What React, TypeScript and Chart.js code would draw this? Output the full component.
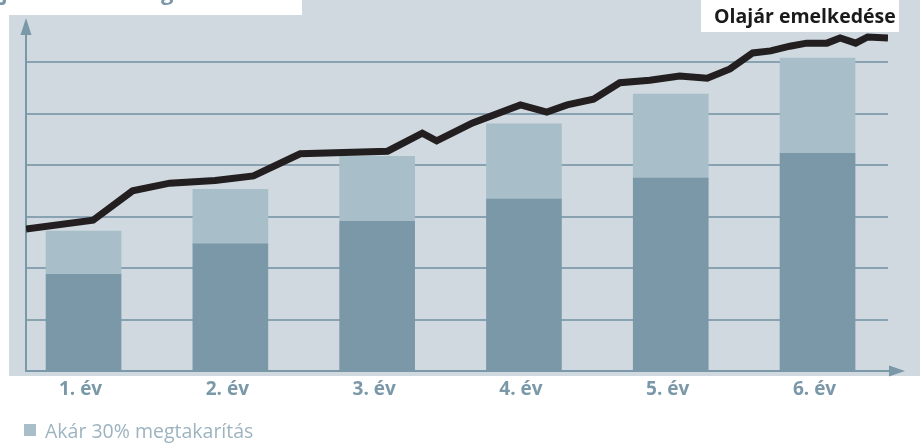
import React, { useEffect, useRef } from "react";
import { Chart, registerables } from "chart.js";

Chart.register(...registerables);

// ---- data ----
const years = ["1. év", "2. év", "3. év", "4. év", "5. év", "6. év"];
const costAfterSaving = [1.88, 2.47, 2.91, 3.34, 3.75, 4.23];
const savingPart = [0.84, 1.06, 1.26, 1.46, 1.63, 1.85];
const oilMonths = [0, 5.6, 8.9, 12, 15.8, 19, 22.9, 30.2, 33.1, 34.3, 37.3, 41.3, 43.5, 45.2, 47.4, 49.6, 52.1, 54.6, 56.9, 58.8, 60.7, 62.2, 63.8, 65.2, 66.9, 68, 69.3, 70.3, 72];
const oilPrice = [2.76, 2.93, 3.5, 3.65, 3.7, 3.79, 4.22, 4.27, 4.62, 4.47, 4.82, 5.17, 5.03, 5.17, 5.28, 5.6, 5.65, 5.73, 5.69, 5.87, 6.18, 6.22, 6.31, 6.37, 6.37, 6.47, 6.37, 6.49, 6.47];
const legendLabel = "Akár 30% megtakarítás";
const lineLabel = "Olajár emelkedése";
const titleText = "jövőbeli költség";

// ---- styles ----
const PANEL = "#d0d9df";
const DARK = "#7b98a8";
const LIGHT = "#a8bec8";
const GRID = "#88a2b1";
const AXIS = "#7b98a8";
const LINE = "#231f20";

const decor = {
  id: "decor",
  beforeDraw(chart: any) {
    const { ctx, chartArea: a, width, height } = chart;
    ctx.save();
    ctx.fillStyle = "#ffffff";
    ctx.fillRect(0, 0, width, height);
    ctx.fillStyle = PANEL;
    ctx.fillRect(a.left - 17, 0, width - (a.left - 17), a.bottom + 5);
    ctx.restore();
  },
  beforeDatasetsDraw(chart: any) {
    const { ctx, chartArea: a } = chart;
    ctx.save();
    ctx.strokeStyle = AXIS;
    ctx.fillStyle = AXIS;
    ctx.lineWidth = 2;
    // y axis
    ctx.beginPath();
    ctx.moveTo(a.left, a.top + 8);
    ctx.lineTo(a.left, a.bottom + 1);
    ctx.stroke();
    ctx.beginPath();
    ctx.moveTo(a.left, a.top - 3);
    ctx.lineTo(a.left - 5.5, a.top + 14);
    ctx.lineTo(a.left + 5.5, a.top + 14);
    ctx.closePath();
    ctx.fill();
    // x axis
    ctx.beginPath();
    ctx.moveTo(a.left - 1, a.bottom);
    ctx.lineTo(a.right + 5, a.bottom);
    ctx.stroke();
    ctx.beginPath();
    ctx.moveTo(a.right + 17, a.bottom);
    ctx.lineTo(a.right + 1, a.bottom - 5.5);
    ctx.lineTo(a.right + 1, a.bottom + 5.5);
    ctx.closePath();
    ctx.fill();
    ctx.restore();
  },
  afterDraw(chart: any) {
    const { ctx, chartArea: a } = chart;
    const xs = chart.scales.x;
    ctx.save();
    // x labels
    ctx.font = "bold 19px 'Open Sans'";
    ctx.fillStyle = DARK;
    ctx.textAlign = "center";
    ctx.textBaseline = "alphabetic";
    years.forEach((lab, i) => {
      ctx.fillText(lab, xs.getPixelForValue(i) - 3, a.bottom + 24);
    });
    // legend
    ctx.fillStyle = LIGHT;
    ctx.fillRect(a.left - 2, a.bottom + 53, 12, 12);
    ctx.font = "400 19.5px 'Open Sans'";
    ctx.fillStyle = "#9db4c0";
    ctx.textAlign = "left";
    ctx.fillText(legendLabel, a.left + 19, a.bottom + 67);
    // clipped title box
    ctx.fillStyle = "#ffffff";
    ctx.fillRect(0, 0, 302, a.top - 6);
    ctx.font = "bold 22px 'Open Sans'";
    ctx.fillStyle = DARK;
    ctx.fillText(titleText, 1, 0);
    // line label box
    ctx.fillStyle = "#ffffff";
    ctx.fillRect(a.right - 187, 0, 198, 32);
    ctx.font = "bold 19.5px 'Open Sans'";
    ctx.fillStyle = "#1a1a1a";
    ctx.fillText(lineLabel, a.right - 174, 23);
    ctx.restore();
  },
};

export default function App() {
  const ref = useRef<HTMLCanvasElement | null>(null);
  useEffect(() => {
    if (!ref.current) return;
    const chart = new Chart(ref.current, {
      type: "bar",
      data: {
        datasets: [
          {
            type: "line",
            label: lineLabel,
            data: oilMonths.map((m, i) => ({ x: m, y: oilPrice[i] })),
            xAxisID: "xm",
            yAxisID: "yl",
            borderColor: LINE,
            borderWidth: 7,
            pointRadius: 0,
            tension: 0,
            fill: false,
            borderJoinStyle: "miter",
            order: 0,
          } as any,
          {
            type: "bar",
            label: "Költség",
            data: years.map((_, i) => ({ x: i, y: costAfterSaving[i] })),
            backgroundColor: DARK,
            borderWidth: 0,
            grouped: false,
            maxBarThickness: 75,
            barPercentage: 1,
            categoryPercentage: 1,
            order: 1,
          } as any,
          {
            type: "bar",
            label: legendLabel,
            data: years.map((_, i) => ({ x: i, y: savingPart[i] })),
            backgroundColor: LIGHT,
            borderWidth: 0,
            grouped: false,
            maxBarThickness: 75,
            barPercentage: 1,
            categoryPercentage: 1,
            order: 1,
          } as any,
        ],
      },
      options: {
        responsive: false,
        animation: false,
        events: [],
        layout: { padding: { left: 26, top: 21, right: 32, bottom: 72 } },
        plugins: { legend: { display: false }, tooltip: { enabled: false }, title: { display: false } },
        scales: {
          x: {
            type: "linear",
            stacked: true,
            offset: false,
            min: -0.392,
            max: 5.48,
            display: false,
            grid: { offset: false },
            ticks: { stepSize: 1, includeBounds: false },
          },
          xm: { type: "linear", offset: false, grid: { offset: false }, min: 0, max: 72, display: false },
          y: {
            stacked: true,
            min: 0,
            max: 6.8,
            display: true,
            border: { display: false },
            grid: { color: GRID, lineWidth: 2, drawTicks: false },
            ticks: { display: false, stepSize: 1, includeBounds: false },
          },
          yl: { min: 0, max: 6.8, display: false },
        },
      } as any,
      plugins: [decor],
    });
    return () => chart.destroy();
  }, []);
  return (
    <canvas
      ref={ref}
      width={920}
      height={443}
      style={{ position: "fixed", left: 0, top: 0, width: 920, height: 443, display: "block" }}
    />
  );
}
